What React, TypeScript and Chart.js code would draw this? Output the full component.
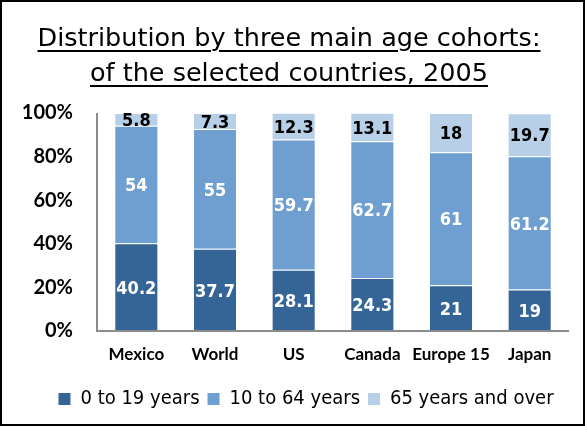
import React, { useEffect, useRef } from "react";
import { Chart, registerables } from "chart.js";

Chart.register(...registerables);

const categories = ["Mexico", "World", "US", "Canada", "Europe 15", "Japan"];
const seriesNames = ["0 to 19 years", "10 to 64 years", "65 years and over"];
const young = [40.2, 37.7, 28.1, 24.3, 21, 19];
const working = [54, 55, 59.7, 62.7, 61, 61.2];
const old = [5.8, 7.3, 12.3, 13.1, 18, 19.7];
const yTickStep = 20;
const yMax = 100;
const titleLines = ["Distribution by three main age cohorts:", "of the selected countries, 2005"];

const colors = ["#356597", "#6F9FD0", "#B8CFE8"];
const labelColors = ["#ffffff", "#ffffff", "#000000"];

const labelPlugin = {
  id: "segLabels",
  afterDatasetsDraw(chart: any) {
    const ctx = chart.ctx;
    ctx.save();
    ctx.font = "bold 18px 'DejaVu Sans Condensed', 'DejaVu Sans', sans-serif";
    ctx.textAlign = "center";
    ctx.textBaseline = "middle";
    chart.data.datasets.forEach((ds: any, i: number) => {
      const meta = chart.getDatasetMeta(i);
      meta.data.forEach((el: any, j: number) => {
        const p = el.getProps(["x", "y", "base"], true);
        ctx.fillStyle = labelColors[i];
        ctx.fillText(String(ds.data[j]), p.x, (p.y + p.base) / 2 + 2);
      });
    });
    ctx.restore();
  },
};

const axisLines = {
  id: "axisLines",
  afterDatasetsDraw(chart: any) {
    const { ctx, chartArea } = chart;
    const { left, right, top, bottom } = chartArea;
    ctx.save();
    ctx.strokeStyle = "#8c8c8c";
    ctx.lineWidth = 2;
    ctx.beginPath();
    ctx.moveTo(left, top);
    ctx.lineTo(left, bottom + 1);
    ctx.moveTo(left - 1, bottom);
    ctx.lineTo(right, bottom);
    ctx.stroke();
    ctx.restore();
  },
};

const legendShift = {
  id: "legendShift",
  afterLayout(chart: any) {
    const lg = chart.legend;
    if (lg) {
      lg.left += 21.5;
      lg.right += 21.5;
    }
  },
};

export default function App() {
  const ref = useRef<HTMLCanvasElement | null>(null);

  useEffect(() => {
    if (!ref.current) return;
    const data = [young, working, old];
    const chart = new Chart(ref.current, {
      type: "bar",
      data: {
        labels: categories,
        datasets: data.map((d, i) => ({
          label: seriesNames[i],
          data: d,
          backgroundColor: colors[i],
          borderColor: "rgba(255,255,255,0.35)",
          borderWidth: 1,
          barPercentage: 0.56,
          categoryPercentage: 1,
        })),
      },
      options: {
        responsive: false,
        animation: false,
        devicePixelRatio: 1,
        layout: { padding: { left: 0, right: 16, top: 113, bottom: 7 } },
        plugins: {
          title: { display: false },
          tooltip: { enabled: false },
          legend: {
            position: "bottom",
            labels: {
              boxWidth: 12,
              boxHeight: 12,
              padding: 8,
              color: "#000",
              font: { family: "'DejaVu Sans Condensed', 'DejaVu Sans', sans-serif", size: 20 },
              generateLabels: (chart: any) =>
                chart.data.datasets.map((ds: any, i: number) => ({
                  text: ds.label,
                  fillStyle: colors[i],
                  strokeStyle: colors[i],
                  lineWidth: 0,
                  fontColor: "#000",
                  hidden: false,
                  datasetIndex: i,
                })),
            },
          },
        },
        scales: {
          x: {
            stacked: true,
            grid: { display: false, drawTicks: false },
            border: { display: false },
            ticks: {
              color: "#000",
              padding: 13,
              autoSkip: false,
              maxRotation: 0,
              minRotation: 0,
              font: { family: "Lato, 'Liberation Sans', sans-serif", size: 17, weight: "bold" },
            },
            afterFit: (s: any) => {
              s.height = 50;
            },
          },
          y: {
            stacked: true,
            min: 0,
            max: yMax,
            grid: { display: false, drawTicks: false },
            border: { display: false },
            ticks: {
              stepSize: yTickStep,
              color: "#000",
              padding: 24,
              font: { family: "Lato, 'Liberation Sans', sans-serif", size: 20, weight: "bold" },
              callback: (v: any) => v + "%",
            },
            afterFit: (s: any) => {
              s.width = 97;
            },
          },
        },
      },
      plugins: [labelPlugin, axisLines, legendShift],
    });
    return () => chart.destroy();
  }, []);

  return (
    <div style={{ position: "fixed", left: 0, top: 0, width: 585, height: 426, background: "#fff" }}>
      <canvas ref={ref} width={585} height={426} style={{ position: "absolute", left: 0, top: 0 }} />
      <div
        style={{
          position: "absolute",
          left: 0,
          top: 20,
          width: 578,
          textAlign: "center",
          fontFamily: "'DejaVu Sans', sans-serif",
          fontSize: 25.5,
          lineHeight: "35px",
          color: "#000",
        }}
      >
        {titleLines.map((t, i) => (
          <div key={i}>
            <span style={{ textDecoration: "underline", textDecorationThickness: 2, textUnderlineOffset: 4 }}>{t}</span>
          </div>
        ))}
      </div>
      <div
        style={{
          position: "absolute",
          left: 0,
          top: 0,
          width: 585,
          height: 426,
          boxSizing: "border-box",
          border: "2px solid #000",
          pointerEvents: "none",
        }}
      />
    </div>
  );
}
